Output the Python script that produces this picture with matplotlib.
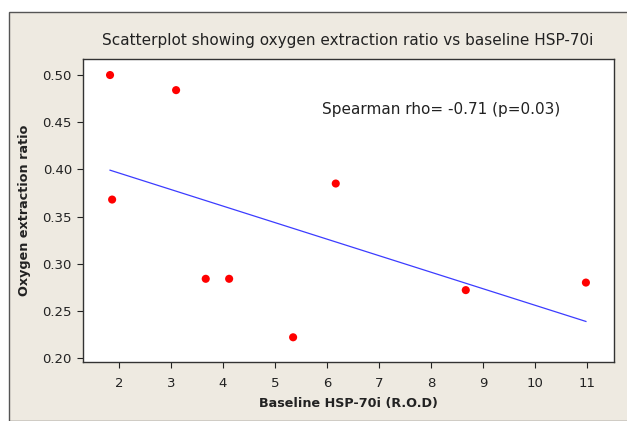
import matplotlib.pyplot as plt
from matplotlib.patches import Rectangle
import numpy as np

# data
hsp70 = [1.83, 3.10, 1.87, 3.67, 4.12, 5.35, 6.17, 8.67, 10.98]
o2_ratio = [0.500, 0.484, 0.368, 0.284, 0.284, 0.222, 0.385, 0.272, 0.280]
x_ticks = [2, 3, 4, 5, 6, 7, 8, 9, 10, 11]
y_ticks = [0.20, 0.25, 0.30, 0.35, 0.40, 0.45, 0.50]

bg = "#EEEAE1"

fig = plt.figure(figsize=(6.27, 4.21), dpi=100)
fig.patch.set_facecolor("white")

# minitab style frame
frame = Rectangle((9 / 627, 0), 1.0, 1 - 12 / 421, transform=fig.transFigure,
                  facecolor=bg, edgecolor="#555555", linewidth=1.0, zorder=-1)
fig.patches.append(frame)

ax = fig.add_axes([83 / 627, 1 - 362 / 421, (614 - 83) / 627, (362 - 59) / 421])
ax.set_zorder(2)
ax.set_facecolor("white")

# regression line
b, a = np.polyfit(hsp70, o2_ratio, 1)
xs = np.array([min(hsp70), max(hsp70)])
ax.plot(xs, a + b * xs, color="#3C3CFF", linewidth=0.9)

ax.scatter(hsp70, o2_ratio, s=34, color="#FF0000", edgecolors="none", zorder=3)

ax.set_xlim(1.31, 11.52)
ax.set_ylim(0.1958, 0.517)
ax.set_xticks(x_ticks)
ax.set_yticks(y_ticks)
ax.set_yticklabels([f"{v:.2f}" for v in y_ticks])
ax.tick_params(direction="out", length=4, width=0.8, labelsize=9.5, colors="#222222")
ax.tick_params(axis="x", pad=7)
ax.tick_params(axis="y", pad=4)

for s in ax.spines.values():
    s.set_color("#333333")
    s.set_linewidth(1.0)

ax.set_xlabel("Baseline HSP-70i (R.O.D)", fontsize=9.2, fontweight="bold", labelpad=5,
              color="#222222")
ax.set_ylabel("Oxygen extraction ratio", fontsize=9.2, fontweight="bold", labelpad=8,
              color="#222222")
fig.text(348 / 627, 1 - 40 / 421, "Scatterplot showing oxygen extraction ratio vs baseline HSP-70i",
         ha="center", va="center", fontsize=11, zorder=3, color="#222222")

ax.text(5.91, 0.463, "Spearman rho= -0.71 (p=0.03)", fontsize=11, ha="left", va="center",
        color="#222222")

fig.savefig("out.png", dpi=100, facecolor=fig.get_facecolor())
